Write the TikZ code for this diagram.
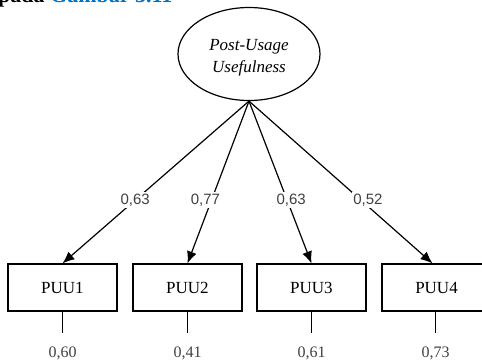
\documentclass[tikz,border=0pt]{standalone}
\usepackage{fontspec}
\setmainfont{Liberation Serif}
\newfontfamily\coefsans{Liberation Sans}
\usetikzlibrary{arrows.meta,shapes.geometric}
\definecolor{citeblue}{RGB}{0,112,192}
\definecolor{coefgray}{RGB}{64,64,64}
\begin{document}
\begin{tikzpicture}[x=1pt,y=-1pt,
  latent/.style={draw, line width=1.2pt, ellipse, minimum width=142pt, minimum height=93pt,
    inner sep=0pt, align=center, font=\fontsize{17}{22}\selectfont\itshape},
  indicator/.style={draw, line width=1.2pt, minimum width=109pt, minimum height=47pt,
    inner sep=0pt, font=\fontsize{17}{20}\selectfont},
  loading/.style={-{Latex[length=12pt,width=10pt]}, line width=1.2pt},
  coef/.style={fill=white, inner sep=1.5pt, text=coefgray, font=\coefsans\fontsize{15}{18}\selectfont},
  resid/.style={line width=1.1pt},
  errlabel/.style={anchor=base, inner sep=0pt, text=coefgray, font=\fontsize{16}{18}\selectfont}
]
\useasboundingbox (0,0) rectangle (482,359);

% running text line above the figure, cut by the page edge
\node[anchor=base west, inner sep=0pt, font=\fontsize{22}{24}\selectfont\bfseries] (caption)
  at (-2,2.5) {pada \textcolor{citeblue}{Gambar 3.11}};

% latent construct (text set slightly below the centre)
\node[latent] (puse) at (249,54)
  {\raisebox{-3pt}[\height][\depth]{\begin{tabular}{@{}c@{}}Post-Usage\\Usefulness\end{tabular}}};

% indicators
\node[indicator] (puu1) at (62.5,287.5) {PUU1};
\node[indicator] (puu2) at (187.5,287.5) {PUU2};
\node[indicator] (puu3) at (311.5,287.5) {PUU3};
\node[indicator] (puu4) at (436.5,287.5) {PUU4};

% factor loadings
\draw[loading] (puse.south) -- node[coef, pos=0.61] {0,63} (puu1.north);
\draw[loading] (puse.south) -- node[coef, pos=0.61, xshift=-6pt] {0,77} (puu2.north);
\draw[loading] (puse.south) -- node[coef, pos=0.61, xshift=4pt] {0,63} (puu3.north);
\draw[loading] (puse.south) -- node[coef, pos=0.61, xshift=7pt] {0,52} ([xshift=-4pt]puu4.north);

% error terms
\coordinate (r1) at (62.5,333);
\coordinate (r2) at (187.5,333);
\coordinate (r3) at (311.5,333);
\coordinate (r4) at (435.5,333);
\draw[resid] (puu1.south) -- (r1);
\draw[resid] (puu2.south) -- (r2);
\draw[resid] (puu3.south) -- (r3);
\draw[resid] ([xshift=-1pt]puu4.south) -- (r4);
\node[errlabel] (e1) at (62.5,357) {0,60};
\node[errlabel] (e2) at (187.5,357) {0,41};
\node[errlabel] (e3) at (311.5,357) {0,61};
\node[errlabel] (e4) at (435.5,357) {0,73};
\end{tikzpicture}
\end{document}
